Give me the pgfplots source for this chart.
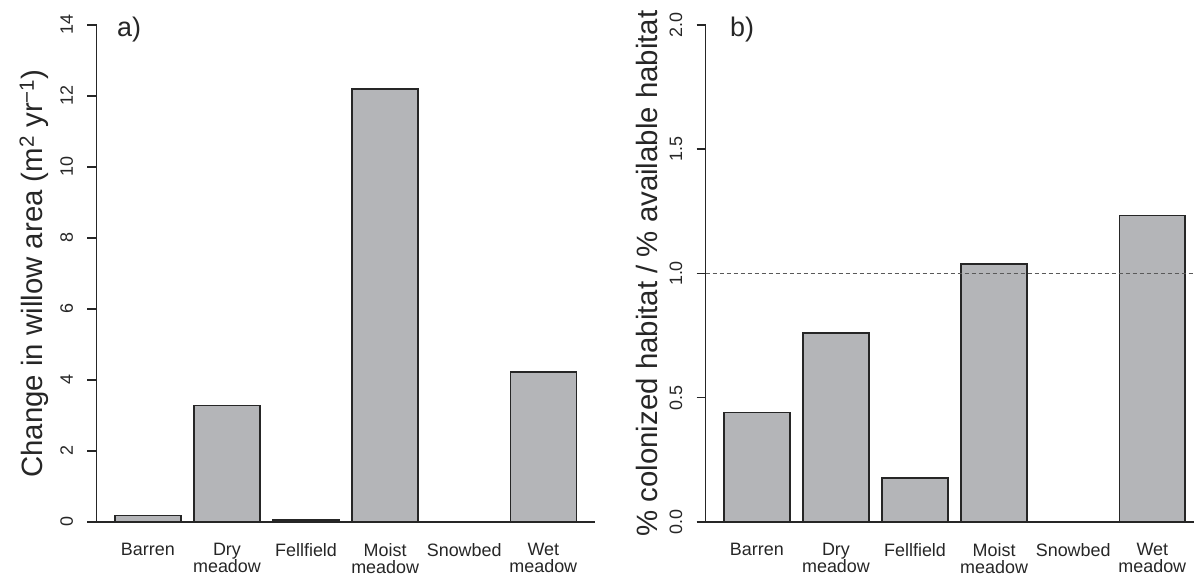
\documentclass[border=0pt]{standalone}
\usepackage{fontspec}
\setmainfont{Liberation Sans}
\usepackage{pgfplots}
\pgfplotsset{compat=1.18}

\definecolor{barfill}{RGB}{180,181,184}
\definecolor{ink}{RGB}{38,38,38}

\pgfplotsset{
  rplot/.style={
    scale only axis, height=497bp, ymin=0, clip=false, axis on top,
    axis y line*=left, axis x line*=bottom,
    axis line style={ink, line width=1.5bp, -},
    tick align=outside, major tick length=9bp,
    ytick style={ink, line width=1.5bp},
    xtick style={draw=none},
    xtick={0.7,1.9,3.1,4.3,5.5,6.7},
    xticklabels={Barren, Dry\\meadow, Fellfield, Moist\\meadow, Snowbed, Wet\\meadow},
    xticklabel style={align=center, anchor=north, inner sep=0pt, yshift=-12bp,
      font=\fontsize{18}{17}\selectfont, text=ink},
    yticklabel shift=14.5bp,
    yticklabel style={rotate=90, anchor=base, inner sep=0pt,
      font=\fontsize{18}{18}\selectfont, text=ink},
    ylabel style={anchor=base, inner sep=0pt, text=ink,
      font=\fontsize{29.5}{30}\selectfont},
  },
  rbar/.style={ybar, bar width=1, fill=barfill, draw=ink, line width=1.5bp},
}

\begin{document}
\begin{tikzpicture}

% a) change in willow area per habitat
\begin{axis}[rplot,
  at={(96.5bp,53bp)}, anchor=south west,
  width=498.2bp, xmin=-0.08, xmax=7.48, ymax=14,
  ytick={0,2,...,14}, yticklabels={0,2,4,6,8,10,12,14},
  ylabel={Change in willow area (m\textsuperscript{2} yr\textsuperscript{−1})},
  ylabel style={at={(axis description cs:-0.1074,0.5)}},
]
\addplot[rbar] coordinates {(0.7,0.18) (1.9,3.28) (3.1,0.05) (4.3,12.2) (5.5,0) (6.7,4.23)};
\node[anchor=base west, inner sep=0pt, text=ink, font=\fontsize{27}{27}\selectfont]
  at (axis description cs:0.041,0.976) {a)};
\end{axis}

% b) colonized vs available habitat ratio
\begin{axis}[rplot,
  at={(705.5bp,53bp)}, anchor=south west,
  width=488.3bp, xmin=-0.08, xmax=7.33, ymax=2,
  ytick={0,0.5,1,1.5,2}, yticklabels={0.0,0.5,1.0,1.5,2.0},
  ylabel={\% colonized habitat / \% available habitat},
  ylabel style={at={(axis description cs:-0.0993,0.5)}},
]
\addplot[rbar] coordinates {(0.7,0.44) (1.9,0.76) (3.1,0.178) (4.3,1.038) (5.5,0) (6.7,1.233)};
\addplot[gray!70!black, line width=1.1bp, dash pattern=on 4bp off 3bp] coordinates {(-0.08,1) (7.33,1)};
\node[anchor=base west, inner sep=0pt, text=ink, font=\fontsize{27}{27}\selectfont]
  at (axis description cs:0.050,0.976) {b)};
\end{axis}

\pgfresetboundingbox
\useasboundingbox (0,0) rectangle (1194bp,575bp);
\end{tikzpicture}
\end{document}
